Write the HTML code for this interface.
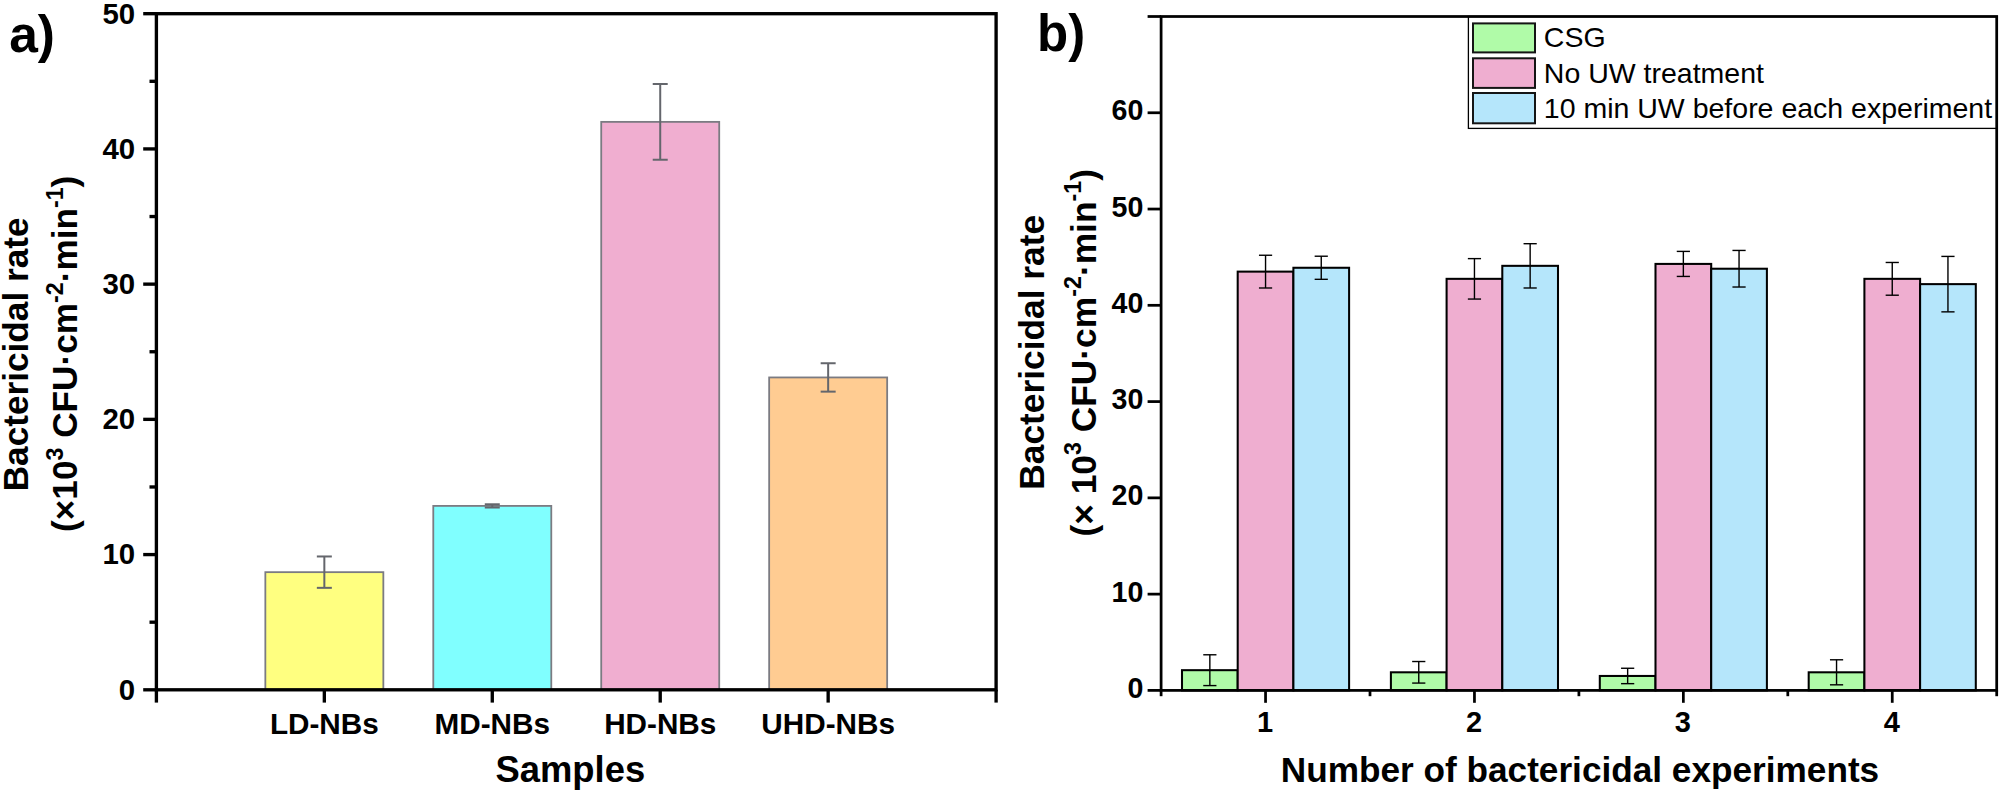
<!DOCTYPE html>
<html lang="en"><head><meta charset="utf-8"><title>Bactericidal rate</title>
<style>
html,body{margin:0;padding:0;background:#fff;}
body{width:2001px;height:793px;overflow:hidden;}
svg{display:block;font-family:"Liberation Sans", sans-serif;fill:#000;}
</style></head><body>
<svg width="2001" height="793" viewBox="0 0 2001 793">
<rect x="0" y="0" width="2001" height="793" fill="#fff"/>
<g id="panel-a">
<rect x="265.34" y="572.16" width="118.00" height="117.64" fill="#FFFF80" stroke="#7b7b82" stroke-width="1.8"/>
<rect x="433.28" y="505.90" width="118.00" height="183.90" fill="#80FFFF" stroke="#7b7b82" stroke-width="1.8"/>
<rect x="601.22" y="121.88" width="118.00" height="567.92" fill="#F0AED0" stroke="#7b7b82" stroke-width="1.8"/>
<rect x="769.16" y="377.44" width="118.00" height="312.36" fill="#FFCC92" stroke="#7b7b82" stroke-width="1.8"/>
<line x1="324.34" y1="556.47" x2="324.34" y2="587.84" stroke="#64666c" stroke-width="2.0" stroke-linecap="butt"/>
<line x1="316.84" y1="556.47" x2="331.84" y2="556.47" stroke="#64666c" stroke-width="2.0" stroke-linecap="butt"/>
<line x1="316.84" y1="587.84" x2="331.84" y2="587.84" stroke="#64666c" stroke-width="2.0" stroke-linecap="butt"/>
<line x1="492.28" y1="504.28" x2="492.28" y2="507.52" stroke="#64666c" stroke-width="2.0" stroke-linecap="butt"/>
<line x1="484.78" y1="504.28" x2="499.78" y2="504.28" stroke="#64666c" stroke-width="2.0" stroke-linecap="butt"/>
<line x1="484.78" y1="507.52" x2="499.78" y2="507.52" stroke="#64666c" stroke-width="2.0" stroke-linecap="butt"/>
<line x1="660.22" y1="84.01" x2="660.22" y2="159.74" stroke="#64666c" stroke-width="2.0" stroke-linecap="butt"/>
<line x1="652.72" y1="84.01" x2="667.72" y2="84.01" stroke="#64666c" stroke-width="2.0" stroke-linecap="butt"/>
<line x1="652.72" y1="159.74" x2="667.72" y2="159.74" stroke="#64666c" stroke-width="2.0" stroke-linecap="butt"/>
<line x1="828.16" y1="363.24" x2="828.16" y2="391.64" stroke="#64666c" stroke-width="2.0" stroke-linecap="butt"/>
<line x1="820.66" y1="363.24" x2="835.66" y2="363.24" stroke="#64666c" stroke-width="2.0" stroke-linecap="butt"/>
<line x1="820.66" y1="391.64" x2="835.66" y2="391.64" stroke="#64666c" stroke-width="2.0" stroke-linecap="butt"/>
<rect x="156.4" y="13.7" width="839.70" height="676.10" fill="none" stroke="#000" stroke-width="3.35"/>
<line x1="143.20" y1="689.80" x2="156.40" y2="689.80" stroke="#000" stroke-width="3.35" stroke-linecap="butt"/>
<text x="135.2" y="699.60" text-anchor="end" font-size="29.4" font-weight="700">0</text>
<line x1="143.20" y1="554.58" x2="156.40" y2="554.58" stroke="#000" stroke-width="3.35" stroke-linecap="butt"/>
<text x="135.2" y="564.38" text-anchor="end" font-size="29.4" font-weight="700">10</text>
<line x1="143.20" y1="419.36" x2="156.40" y2="419.36" stroke="#000" stroke-width="3.35" stroke-linecap="butt"/>
<text x="135.2" y="429.16" text-anchor="end" font-size="29.4" font-weight="700">20</text>
<line x1="143.20" y1="284.14" x2="156.40" y2="284.14" stroke="#000" stroke-width="3.35" stroke-linecap="butt"/>
<text x="135.2" y="293.94" text-anchor="end" font-size="29.4" font-weight="700">30</text>
<line x1="143.20" y1="148.92" x2="156.40" y2="148.92" stroke="#000" stroke-width="3.35" stroke-linecap="butt"/>
<text x="135.2" y="158.72" text-anchor="end" font-size="29.4" font-weight="700">40</text>
<line x1="143.20" y1="13.70" x2="156.40" y2="13.70" stroke="#000" stroke-width="3.35" stroke-linecap="butt"/>
<text x="135.2" y="23.50" text-anchor="end" font-size="29.4" font-weight="700">50</text>
<line x1="149.50" y1="622.19" x2="156.40" y2="622.19" stroke="#000" stroke-width="3.35" stroke-linecap="butt"/>
<line x1="149.50" y1="486.97" x2="156.40" y2="486.97" stroke="#000" stroke-width="3.35" stroke-linecap="butt"/>
<line x1="149.50" y1="351.75" x2="156.40" y2="351.75" stroke="#000" stroke-width="3.35" stroke-linecap="butt"/>
<line x1="149.50" y1="216.53" x2="156.40" y2="216.53" stroke="#000" stroke-width="3.35" stroke-linecap="butt"/>
<line x1="149.50" y1="81.31" x2="156.40" y2="81.31" stroke="#000" stroke-width="3.35" stroke-linecap="butt"/>
<line x1="156.40" y1="689.80" x2="156.40" y2="702.60" stroke="#000" stroke-width="3.35" stroke-linecap="butt"/>
<line x1="324.34" y1="689.80" x2="324.34" y2="702.60" stroke="#000" stroke-width="3.35" stroke-linecap="butt"/>
<line x1="492.28" y1="689.80" x2="492.28" y2="702.60" stroke="#000" stroke-width="3.35" stroke-linecap="butt"/>
<line x1="660.22" y1="689.80" x2="660.22" y2="702.60" stroke="#000" stroke-width="3.35" stroke-linecap="butt"/>
<line x1="828.16" y1="689.80" x2="828.16" y2="702.60" stroke="#000" stroke-width="3.35" stroke-linecap="butt"/>
<line x1="996.10" y1="689.80" x2="996.10" y2="702.60" stroke="#000" stroke-width="3.35" stroke-linecap="butt"/>
<text x="324.34" y="733.9" text-anchor="middle" font-size="29.7" font-weight="700">LD-NBs</text>
<text x="492.28" y="733.9" text-anchor="middle" font-size="29.7" font-weight="700">MD-NBs</text>
<text x="660.22" y="733.9" text-anchor="middle" font-size="29.7" font-weight="700">HD-NBs</text>
<text x="828.16" y="733.9" text-anchor="middle" font-size="29.7" font-weight="700">UHD-NBs</text>
<text x="570.3" y="782.4" text-anchor="middle" font-size="36.4" font-weight="700">Samples</text>
<text x="9.2" y="51.5" font-size="51.5" font-weight="700">a)</text>
<text transform="translate(27.8,354.4) rotate(-90)" text-anchor="middle" font-size="35.2" font-weight="700">Bactericidal rate</text>
<text transform="translate(77.2,353.8) rotate(-90)" text-anchor="middle" font-size="35.2" font-weight="700">(×10<tspan font-size="23.2" dy="-14.6">3</tspan><tspan dy="14.6"> CFU·cm</tspan><tspan font-size="23.2" dy="-14.6">-2</tspan><tspan dy="14.6">·min</tspan><tspan font-size="23.2" dy="-14.6">-1</tspan><tspan dy="14.6">)</tspan></text>
</g>
<g id="panel-b">
<rect x="1182.00" y="670.18" width="55.70" height="20.22" fill="#B0FBA8" stroke="#000" stroke-width="2.05"/>
<rect x="1237.70" y="271.62" width="55.70" height="418.78" fill="#EFAED0" stroke="#000" stroke-width="2.05"/>
<rect x="1293.40" y="267.77" width="55.70" height="422.63" fill="#B5E6FB" stroke="#000" stroke-width="2.05"/>
<rect x="1390.90" y="672.30" width="55.70" height="18.10" fill="#B0FBA8" stroke="#000" stroke-width="2.05"/>
<rect x="1446.60" y="278.84" width="55.70" height="411.56" fill="#EFAED0" stroke="#000" stroke-width="2.05"/>
<rect x="1502.30" y="265.84" width="55.70" height="424.56" fill="#B5E6FB" stroke="#000" stroke-width="2.05"/>
<rect x="1599.80" y="675.96" width="55.70" height="14.44" fill="#B0FBA8" stroke="#000" stroke-width="2.05"/>
<rect x="1655.50" y="263.92" width="55.70" height="426.48" fill="#EFAED0" stroke="#000" stroke-width="2.05"/>
<rect x="1711.20" y="268.73" width="55.70" height="421.67" fill="#B5E6FB" stroke="#000" stroke-width="2.05"/>
<rect x="1808.70" y="672.30" width="55.70" height="18.10" fill="#B0FBA8" stroke="#000" stroke-width="2.05"/>
<rect x="1864.40" y="278.84" width="55.70" height="411.56" fill="#EFAED0" stroke="#000" stroke-width="2.05"/>
<rect x="1920.10" y="284.13" width="55.70" height="406.27" fill="#B5E6FB" stroke="#000" stroke-width="2.05"/>
<line x1="1209.85" y1="654.78" x2="1209.85" y2="685.59" stroke="#000" stroke-width="1.4" stroke-linecap="butt"/>
<line x1="1203.25" y1="654.78" x2="1216.45" y2="654.78" stroke="#000" stroke-width="1.4" stroke-linecap="butt"/>
<line x1="1203.25" y1="685.59" x2="1216.45" y2="685.59" stroke="#000" stroke-width="1.4" stroke-linecap="butt"/>
<line x1="1265.55" y1="255.25" x2="1265.55" y2="287.99" stroke="#000" stroke-width="1.4" stroke-linecap="butt"/>
<line x1="1258.95" y1="255.25" x2="1272.15" y2="255.25" stroke="#000" stroke-width="1.4" stroke-linecap="butt"/>
<line x1="1258.95" y1="287.99" x2="1272.15" y2="287.99" stroke="#000" stroke-width="1.4" stroke-linecap="butt"/>
<line x1="1321.25" y1="256.22" x2="1321.25" y2="279.32" stroke="#000" stroke-width="1.4" stroke-linecap="butt"/>
<line x1="1314.65" y1="256.22" x2="1327.85" y2="256.22" stroke="#000" stroke-width="1.4" stroke-linecap="butt"/>
<line x1="1314.65" y1="279.32" x2="1327.85" y2="279.32" stroke="#000" stroke-width="1.4" stroke-linecap="butt"/>
<line x1="1418.75" y1="661.52" x2="1418.75" y2="683.08" stroke="#000" stroke-width="1.4" stroke-linecap="butt"/>
<line x1="1412.15" y1="661.52" x2="1425.35" y2="661.52" stroke="#000" stroke-width="1.4" stroke-linecap="butt"/>
<line x1="1412.15" y1="683.08" x2="1425.35" y2="683.08" stroke="#000" stroke-width="1.4" stroke-linecap="butt"/>
<line x1="1474.45" y1="258.62" x2="1474.45" y2="299.06" stroke="#000" stroke-width="1.4" stroke-linecap="butt"/>
<line x1="1467.85" y1="258.62" x2="1481.05" y2="258.62" stroke="#000" stroke-width="1.4" stroke-linecap="butt"/>
<line x1="1467.85" y1="299.06" x2="1481.05" y2="299.06" stroke="#000" stroke-width="1.4" stroke-linecap="butt"/>
<line x1="1530.15" y1="243.70" x2="1530.15" y2="287.99" stroke="#000" stroke-width="1.4" stroke-linecap="butt"/>
<line x1="1523.55" y1="243.70" x2="1536.75" y2="243.70" stroke="#000" stroke-width="1.4" stroke-linecap="butt"/>
<line x1="1523.55" y1="287.99" x2="1536.75" y2="287.99" stroke="#000" stroke-width="1.4" stroke-linecap="butt"/>
<line x1="1627.65" y1="668.26" x2="1627.65" y2="683.66" stroke="#000" stroke-width="1.4" stroke-linecap="butt"/>
<line x1="1621.05" y1="668.26" x2="1634.25" y2="668.26" stroke="#000" stroke-width="1.4" stroke-linecap="butt"/>
<line x1="1621.05" y1="683.66" x2="1634.25" y2="683.66" stroke="#000" stroke-width="1.4" stroke-linecap="butt"/>
<line x1="1683.35" y1="251.40" x2="1683.35" y2="276.43" stroke="#000" stroke-width="1.4" stroke-linecap="butt"/>
<line x1="1676.75" y1="251.40" x2="1689.95" y2="251.40" stroke="#000" stroke-width="1.4" stroke-linecap="butt"/>
<line x1="1676.75" y1="276.43" x2="1689.95" y2="276.43" stroke="#000" stroke-width="1.4" stroke-linecap="butt"/>
<line x1="1739.05" y1="250.44" x2="1739.05" y2="287.02" stroke="#000" stroke-width="1.4" stroke-linecap="butt"/>
<line x1="1732.45" y1="250.44" x2="1745.65" y2="250.44" stroke="#000" stroke-width="1.4" stroke-linecap="butt"/>
<line x1="1732.45" y1="287.02" x2="1745.65" y2="287.02" stroke="#000" stroke-width="1.4" stroke-linecap="butt"/>
<line x1="1836.55" y1="659.79" x2="1836.55" y2="684.82" stroke="#000" stroke-width="1.4" stroke-linecap="butt"/>
<line x1="1829.95" y1="659.79" x2="1843.15" y2="659.79" stroke="#000" stroke-width="1.4" stroke-linecap="butt"/>
<line x1="1829.95" y1="684.82" x2="1843.15" y2="684.82" stroke="#000" stroke-width="1.4" stroke-linecap="butt"/>
<line x1="1892.25" y1="262.47" x2="1892.25" y2="295.21" stroke="#000" stroke-width="1.4" stroke-linecap="butt"/>
<line x1="1885.65" y1="262.47" x2="1898.85" y2="262.47" stroke="#000" stroke-width="1.4" stroke-linecap="butt"/>
<line x1="1885.65" y1="295.21" x2="1898.85" y2="295.21" stroke="#000" stroke-width="1.4" stroke-linecap="butt"/>
<line x1="1947.95" y1="256.41" x2="1947.95" y2="311.86" stroke="#000" stroke-width="1.4" stroke-linecap="butt"/>
<line x1="1941.35" y1="256.41" x2="1954.55" y2="256.41" stroke="#000" stroke-width="1.4" stroke-linecap="butt"/>
<line x1="1941.35" y1="311.86" x2="1954.55" y2="311.86" stroke="#000" stroke-width="1.4" stroke-linecap="butt"/>
<line x1="1147.60" y1="690.40" x2="1161.10" y2="690.40" stroke="#000" stroke-width="2.75" stroke-linecap="butt"/>
<text x="1143.3" y="698.00" text-anchor="end" font-size="28.6" font-weight="700">0</text>
<line x1="1147.60" y1="594.13" x2="1161.10" y2="594.13" stroke="#000" stroke-width="2.75" stroke-linecap="butt"/>
<text x="1143.3" y="601.73" text-anchor="end" font-size="28.6" font-weight="700">10</text>
<line x1="1147.60" y1="497.86" x2="1161.10" y2="497.86" stroke="#000" stroke-width="2.75" stroke-linecap="butt"/>
<text x="1143.3" y="505.46" text-anchor="end" font-size="28.6" font-weight="700">20</text>
<line x1="1147.60" y1="401.59" x2="1161.10" y2="401.59" stroke="#000" stroke-width="2.75" stroke-linecap="butt"/>
<text x="1143.3" y="409.19" text-anchor="end" font-size="28.6" font-weight="700">30</text>
<line x1="1147.60" y1="305.31" x2="1161.10" y2="305.31" stroke="#000" stroke-width="2.75" stroke-linecap="butt"/>
<text x="1143.3" y="312.91" text-anchor="end" font-size="28.6" font-weight="700">40</text>
<line x1="1147.60" y1="209.04" x2="1161.10" y2="209.04" stroke="#000" stroke-width="2.75" stroke-linecap="butt"/>
<text x="1143.3" y="216.64" text-anchor="end" font-size="28.6" font-weight="700">50</text>
<line x1="1147.60" y1="112.77" x2="1161.10" y2="112.77" stroke="#000" stroke-width="2.75" stroke-linecap="butt"/>
<text x="1143.3" y="120.37" text-anchor="end" font-size="28.6" font-weight="700">60</text>
<line x1="1147.60" y1="16.50" x2="1161.10" y2="16.50" stroke="#000" stroke-width="2.75" stroke-linecap="butt"/>
<line x1="1265.55" y1="690.40" x2="1265.55" y2="702.80" stroke="#000" stroke-width="2.75" stroke-linecap="butt"/>
<text x="1265.05" y="732.2" text-anchor="middle" font-size="29" font-weight="700">1</text>
<line x1="1474.45" y1="690.40" x2="1474.45" y2="702.80" stroke="#000" stroke-width="2.75" stroke-linecap="butt"/>
<text x="1473.95" y="732.2" text-anchor="middle" font-size="29" font-weight="700">2</text>
<line x1="1683.35" y1="690.40" x2="1683.35" y2="702.80" stroke="#000" stroke-width="2.75" stroke-linecap="butt"/>
<text x="1682.85" y="732.2" text-anchor="middle" font-size="29" font-weight="700">3</text>
<line x1="1892.25" y1="690.40" x2="1892.25" y2="702.80" stroke="#000" stroke-width="2.75" stroke-linecap="butt"/>
<text x="1891.75" y="732.2" text-anchor="middle" font-size="29" font-weight="700">4</text>
<line x1="1161.10" y1="690.40" x2="1161.10" y2="696.20" stroke="#000" stroke-width="2.75" stroke-linecap="butt"/>
<line x1="1370.00" y1="690.40" x2="1370.00" y2="696.20" stroke="#000" stroke-width="2.75" stroke-linecap="butt"/>
<line x1="1578.90" y1="690.40" x2="1578.90" y2="696.20" stroke="#000" stroke-width="2.75" stroke-linecap="butt"/>
<line x1="1787.80" y1="690.40" x2="1787.80" y2="696.20" stroke="#000" stroke-width="2.75" stroke-linecap="butt"/>
<line x1="1996.70" y1="690.40" x2="1996.70" y2="696.20" stroke="#000" stroke-width="2.75" stroke-linecap="butt"/>
<text x="1580" y="782.3" text-anchor="middle" font-size="35.2" font-weight="700">Number of bactericidal experiments</text>
<text x="1037.0" y="51.2" font-size="51" font-weight="700">b)</text>
<text transform="translate(1044.4,352.3) rotate(-90)" text-anchor="middle" font-size="35.35" font-weight="700">Bactericidal rate</text>
<text transform="translate(1096,352.8) rotate(-90)" text-anchor="middle" font-size="35.35" font-weight="700">(× 10<tspan font-size="23.3" dy="-14.7">3</tspan><tspan dy="14.7"> CFU·cm</tspan><tspan font-size="23.3" dy="-14.7">-2</tspan><tspan dy="14.7">·min</tspan><tspan font-size="23.3" dy="-14.7">-1</tspan><tspan dy="14.7">)</tspan></text>
<rect x="1468.4" y="16.5" width="528.30" height="111.90" fill="#fff" stroke="#000" stroke-width="1.3"/>
<rect x="1473.0" y="23.40" width="62.0" height="29.00" fill="#B0FBA8" stroke="#151515" stroke-width="2.0"/>
<text x="1543.8" y="47.20" font-size="28.5">CSG</text>
<rect x="1473.0" y="58.30" width="62.0" height="29.60" fill="#EFAED0" stroke="#151515" stroke-width="2.0"/>
<text x="1543.8" y="82.50" font-size="28.5">No UW treatment</text>
<rect x="1473.0" y="93.00" width="62.0" height="30.30" fill="#B5E6FB" stroke="#151515" stroke-width="2.0"/>
<text x="1543.8" y="117.60" font-size="28.5">10 min UW before each experiment</text>
<rect x="1161.1" y="16.5" width="835.60" height="673.90" fill="none" stroke="#000" stroke-width="2.75"/>
</g>
</svg>
</body></html>
